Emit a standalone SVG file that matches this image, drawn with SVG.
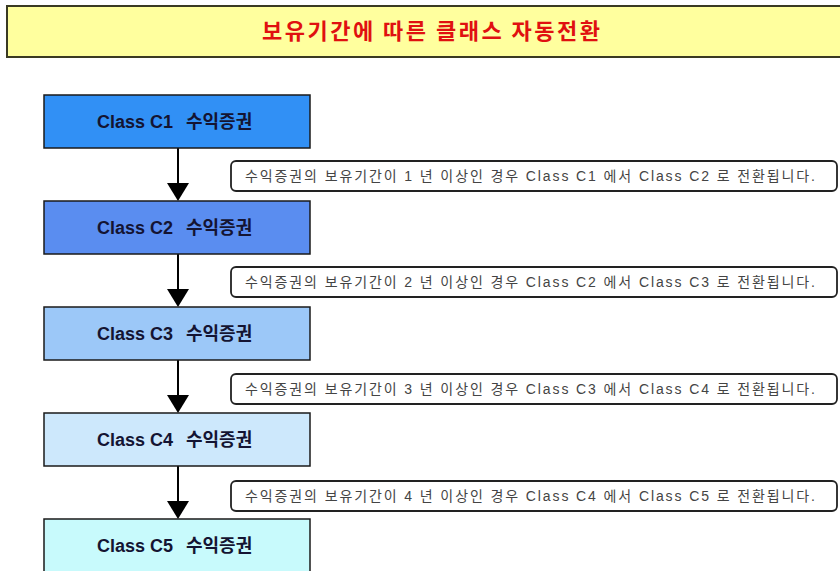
<svg xmlns="http://www.w3.org/2000/svg" width="840" height="571" viewBox="0 0 840 571">
<style>
.node rect{stroke:#1a1a1a;stroke-width:1.5}
.node text{font-family:"Liberation Sans","Noto Sans CJK KR",sans-serif;font-weight:bold;font-size:18px;fill:#141432}
.lbl rect{fill:#fff;stroke:#222;stroke-width:1.8}
.lbl text{font-family:"Liberation Sans","Noto Sans CJK KR",sans-serif;font-size:14px;fill:#444}
.conn line{stroke:#000;stroke-width:2}
.conn path{fill:#000}
</style>
<rect width="840" height="571" fill="#fff"/>
<g id="title">
<rect x="7" y="6" width="840" height="51" fill="#FFFF9E" stroke="#3a3a22" stroke-width="2"/>
<text x="262" y="39" textLength="338" lengthAdjust="spacing" font-family="'Noto Sans CJK KR',sans-serif" font-weight="bold" font-size="22" fill="#E01010">보유기간에 따른 클래스 자동전환</text>
</g>
<g id="connectors" class="conn">
<line x1="178" y1="148" x2="178" y2="185"/><path d="M167,183 L189,183 L178,201 Z"/>
<line x1="178" y1="254" x2="178" y2="291"/><path d="M167,289 L189,289 L178,307 Z"/>
<line x1="178" y1="360" x2="178" y2="397"/><path d="M167,395 L189,395 L178,413 Z"/>
<line x1="178" y1="466" x2="178" y2="503"/><path d="M167,501 L189,501 L178,519 Z"/>
</g>
<g id="c1" class="node"><rect x="44" y="95" width="266" height="53" fill="#3190F5"/><text y="128"><tspan x="97">Class C1</tspan><tspan x="186">수익증권</tspan></text></g>
<g id="c2" class="node"><rect x="44" y="201" width="266" height="53" fill="#5A8DF0"/><text y="234"><tspan x="97">Class C2</tspan><tspan x="186">수익증권</tspan></text></g>
<g id="c3" class="node"><rect x="44" y="307" width="266" height="53" fill="#9CC8F8"/><text y="340"><tspan x="97">Class C3</tspan><tspan x="186">수익증권</tspan></text></g>
<g id="c4" class="node"><rect x="44" y="413" width="266" height="53" fill="#CDE8FC"/><text y="446"><tspan x="97">Class C4</tspan><tspan x="186">수익증권</tspan></text></g>
<g id="c5" class="node"><rect x="44" y="519" width="266" height="60" fill="#C8FAFC"/><text y="552"><tspan x="97">Class C5</tspan><tspan x="186">수익증권</tspan></text></g>
<g id="l1" class="lbl"><rect x="231" y="161" width="606" height="30" rx="5"/><text x="245" y="181" textLength="570" lengthAdjust="spacing">수익증권의 보유기간이 1 년 이상인 경우 Class C1 에서 Class C2 로 전환됩니다.</text></g>
<g id="l2" class="lbl"><rect x="231" y="267" width="606" height="30" rx="5"/><text x="245" y="287" textLength="570" lengthAdjust="spacing">수익증권의 보유기간이 2 년 이상인 경우 Class C2 에서 Class C3 로 전환됩니다.</text></g>
<g id="l3" class="lbl"><rect x="231" y="374" width="606" height="30" rx="5"/><text x="245" y="394" textLength="570" lengthAdjust="spacing">수익증권의 보유기간이 3 년 이상인 경우 Class C3 에서 Class C4 로 전환됩니다.</text></g>
<g id="l4" class="lbl"><rect x="231" y="481" width="606" height="30" rx="5"/><text x="245" y="501" textLength="570" lengthAdjust="spacing">수익증권의 보유기간이 4 년 이상인 경우 Class C4 에서 Class C5 로 전환됩니다.</text></g>
</svg>
